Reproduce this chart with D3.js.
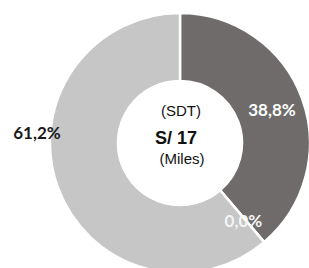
<!DOCTYPE html>
<html><head><meta charset="utf-8">
<script src="https://cdn.jsdelivr.net/npm/d3@7"></script>
<style>body{margin:0;background:#fff;}svg{display:block;}</style>
</head><body>
<svg id="c" width="309" height="268"></svg>
<script>
const categories = ["Segmento 1", "Segmento 2", "Segmento 3"];
const values = [38.8, 0.0, 61.2];
const labels = ["38,8%", "0,0%", "61,2%"];
const colors = ["#6e6b6a", "#6e6b6a", "#c6c6c6"];
const labelColors = ["#ffffff", "#f4f4f4", "#1a1a1a"];
const centerLines = ["(SDT)", "S/ 17", "(Miles)"];

const svg = d3.select("#c");
const cx = 180, cy = 143, rOuter = 130, rInner = 62;
const g = svg.append("g").attr("transform", `translate(${cx},${cy})`);

const pie = d3.pie().sort(null).value(d => d)(values);
const arc = d3.arc().innerRadius(rInner).outerRadius(rOuter);

g.selectAll("path.slice").data(pie).join("path")
  .attr("class", "slice")
  .attr("d", arc)
  .attr("fill", (d, i) => colors[i])
  .attr("stroke", "#ffffff").attr("stroke-width", 2.5);

// label positions: centroids for first two, outside-left for the last
const labelArc = d3.arc().innerRadius(rInner + 2).outerRadius(rOuter + 2);
g.selectAll("text.lab").data(pie).join("text")
  .attr("class", "lab")
  .attr("transform", (d, i) => {
    if (i === 2) return `translate(${-rOuter - 13},${-11})`;
    const c = labelArc.centroid(d);
    return `translate(${c[0]},${c[1] + (i === 1 ? 3 : 0)})`;
  })
  .attr("text-anchor", "middle")
  .attr("dominant-baseline", "central")
  .attr("font-family", "Lato, 'Open Sans', sans-serif")
  .attr("font-weight", "bold")
  .attr("font-size", 17)
  .attr("fill", (d, i) => labelColors[i])
  .text((d, i) => labels[i]);

// center text
const ct = g.append("g").attr("font-family", "Arial, 'Liberation Sans', sans-serif").attr("fill", "#111");
ct.append("text").attr("x", 1).attr("y", -33).attr("text-anchor", "middle")
  .attr("dominant-baseline", "central").attr("font-size", 15).text(centerLines[0]);
ct.append("text").attr("x", -4).attr("y", -5).attr("text-anchor", "middle")
  .attr("dominant-baseline", "central").attr("font-size", 18).attr("font-weight", "bold").text(centerLines[1]);
ct.append("text").attr("x", 2).attr("y", 15).attr("text-anchor", "middle")
  .attr("dominant-baseline", "central").attr("font-size", 15).text(centerLines[2]);
</script>
</body></html>
